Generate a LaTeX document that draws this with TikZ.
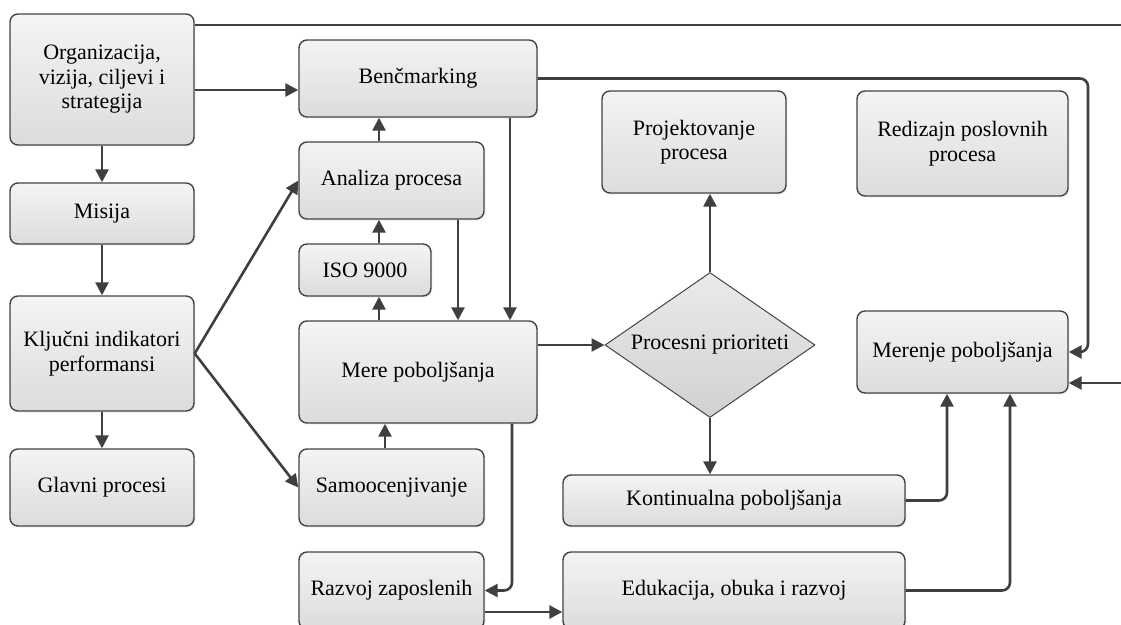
\documentclass[tikz,border=0pt]{standalone}
\usepackage{fontspec}
\setmainfont{Liberation Serif}
\usetikzlibrary{arrows.meta,shapes.geometric,shadows}
\definecolor{edge}{HTML}{444444}
\definecolor{wire}{HTML}{3F3F3F}
\definecolor{boxtop}{HTML}{F4F4F4}
\definecolor{boxbot}{HTML}{DCDCDC}
\begin{document}
\begin{tikzpicture}[x=1pt,y=-1pt,
  lbl/.style={font=\fontsize{22}{24.5}\selectfont, align=center},
  box/.style={lbl, draw=edge, line width=1.4pt, rounded corners=8pt,
    top color=boxtop, bottom color=boxbot, inner sep=2pt,
    drop shadow={opacity=0.12, shadow xshift=1.5pt, shadow yshift=-1.5pt}},
  decision/.style={lbl, diamond, aspect=1.45, draw=edge, line width=1pt, inner sep=0pt,
    top color=boxtop!60!boxbot, bottom color=boxbot!95!black},
  link/.style={draw=wire, line width=2.6pt},
  arr/.style={link, -{Triangle[length=13pt,width=13pt]}},
  elbow/.style={arr, rounded corners=8pt}]
\useasboundingbox (0,0) rectangle (1121,624);
\clip (0,0) rectangle (1121,624);

% left column
\node[box, minimum width=184pt, minimum height=131pt] (org) at (102,79.5)
  {Organizacija,\\ vizija, ciljevi i\\ strategija};
\node[box, minimum width=184pt, minimum height=61pt] (mis) at (102,213.5) {Misija};
\node[box, minimum width=184pt, minimum height=115pt] (kpi) at (102,353.5)
  {Ključni indikatori\\ performansi};
\node[box, minimum width=184pt, minimum height=77pt] (glav) at (102,487.5) {Glavni procesi};

% middle column
\node[box, minimum width=238pt, minimum height=77pt] (ben) at (418,78.5) {Benčmarking};
\node[box, minimum width=185pt, minimum height=77pt] (ana) at (391.5,180.5) {Analiza procesa};
\node[box, minimum width=132pt, minimum height=52pt] (iso) at (365,270) {ISO 9000};
\node[box, minimum width=238pt, minimum height=102pt] (mere) at (418,372) {Mere poboljšanja};
\node[box, minimum width=185pt, minimum height=77pt] (samo) at (391.5,487.5) {Samoocenjivanje};
\node[box, minimum width=185pt, minimum height=77pt] (razv) at (391.5,590.5) {Razvoj zaposlenih};

% right part
\node[box, minimum width=184pt, minimum height=102pt] (proj) at (694,142)
  {Projektovanje\\ procesa};
\node[box, minimum width=211pt, minimum height=105pt] (redi) at (962.5,143.5)
  {Redizajn poslovnih\\ procesa};
\node[box, minimum width=211pt, minimum height=82pt] (mer) at (962.5,352) {Merenje poboljšanja};
\node[decision, minimum width=210pt, minimum height=145pt] (prio) at (710,345)
  {Procesni prioriteti};
\node[box, minimum width=342pt, minimum height=51pt] (kont) at (734,500.5)
  {Kontinualna poboljšanja};
\node[box, minimum width=342pt, minimum height=77pt] (edu) at (734,590.5)
  {Edukacija, obuka i razvoj};

% free ends at the border
\coordinate (topend) at (1121,25);
\coordinate (rin) at (1121,383);

% connectors
\draw[arr] (org.south) -- (mis.north);
\draw[arr] (mis.south) -- (kpi.north);
\draw[arr] (kpi.south) -- (glav.north);
\draw[link] (org.east |- topend) -- (topend);
\draw[arr] (org.east |- 0,90) -- (ben.west |- 0,90);
\draw[arr] (kpi.east) -- (ana.west);
\draw[arr] (kpi.east) -- (samo.west);

\draw[arr] (379,0 |- ana.north) -- (379,0 |- ben.south);
\draw[arr] (379,0 |- iso.north) -- (379,0 |- ana.south);
\draw[arr] (379,0 |- mere.north) -- (379,0 |- iso.south);
\draw[arr] (385,0 |- samo.north) -- (385,0 |- mere.south);
\draw[arr] (458,0 |- ana.south) -- (458,0 |- mere.north);
\draw[arr] (510,0 |- ben.south) -- (510,0 |- mere.north);
\draw[elbow] (512,0 |- mere.south) |- (razv.east);
\draw[arr] (razv.east |- 0,612) -- (edu.west |- 0,612);

\draw[arr] (mere.east |- prio.west) -- (prio.west);
\draw[arr] (prio.north) -- (prio.north |- proj.south);
\draw[arr] (prio.south) -- (prio.south |- kont.north);

\draw[elbow] (ben.east) -- (ben.east -| 1088,0) |- (mer.east);
\draw[arr] (rin) -- (mer.east |- rin);
\draw[elbow] (kont.east) -| (947,0 |- mer.south);
\draw[elbow] (edu.east) -| (1010,0 |- mer.south);
\end{tikzpicture}
\end{document}
